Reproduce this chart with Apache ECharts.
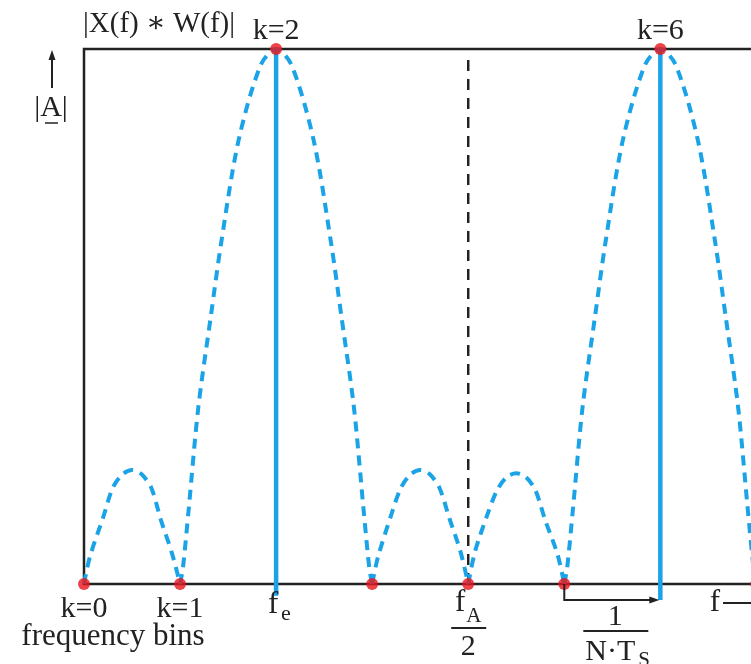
<!DOCTYPE html>
<html>
<head>
<meta charset="utf-8">
<script src="https://cdn.jsdelivr.net/npm/echarts@6/dist/echarts.min.js"></script>
<style>
  html, body { margin: 0; padding: 0; background: #fff; }
  #container { width: 751px; height: 664px; }
</style>
</head>
<body>
<div id="container"></div>
<script>
"use strict";

// 频率格点 k = 0..7
const bins = [0, 1, 2, 3, 4, 5, 6, 7];
const binValues = [0, 0, 1, 0, 0, 0, 1, 0];
const binLabels = ["k=0", "k=1", "", "", "", "", "", ""];
const topLabels = { 2: "k=2", 6: "k=6" };
const signalBins = [2, 6]; // f_e 和镜像
const signalBottom = [-0.022, -0.03];
const halfSampleBin = 4; // fA/2

// 窗函数谱的各个瓣 [bin, |A|]
const lobe0 = [[0, 0], [0.06, 0.05], [0.2, 0.125], [0.3, 0.18], [0.4, 0.205], [0.5, 0.213], [0.6, 0.205], [0.7, 0.18], [0.8, 0.12], [0.92, 0.055], [1, 0]];
const lobe1 = [[1, 0], [1.03, 0.03], [1.09, 0.14], [1.19, 0.33], [1.32, 0.5], [1.43, 0.64], [1.61, 0.83], [1.84, 0.97], [2, 1],
               [2.16, 0.97], [2.39, 0.83], [2.57, 0.64], [2.68, 0.5], [2.81, 0.33], [2.91, 0.14], [2.97, 0.03], [3, 0]];
const lobe2 = [[3, 0], [3.06, 0.05], [3.2, 0.13], [3.3, 0.18], [3.4, 0.205], [3.5, 0.213], [3.6, 0.205], [3.7, 0.18], [3.8, 0.125], [3.92, 0.06], [4, 0]];
const lobe3 = [[4, 0], [4.07, 0.06], [4.2, 0.13], [4.3, 0.175], [4.4, 0.2], [4.5, 0.207], [4.6, 0.2], [4.7, 0.175], [4.8, 0.12], [4.93, 0.055], [5, 0]];
const lobe4 = [[5, 0], [5.03, 0.03], [5.09, 0.14], [5.19, 0.33], [5.32, 0.5], [5.43, 0.64], [5.61, 0.83], [5.84, 0.97], [6, 1],
               [6.16, 0.97], [6.39, 0.83], [6.57, 0.64], [6.68, 0.5], [6.81, 0.33], [6.91, 0.14], [6.97, 0.03], [7, 0]];
const lobes = [lobe0, lobe1, lobe2, lobe3, lobe4];

const BLUE = "#1aa3e6";
const RED = "#e8141c";
const INK = "#222";
const SERIF = "'Liberation Serif', 'DejaVu Serif', serif";

let myChart = echarts.init(document.getElementById("container"));

let series = lobes.map(function (lobe) {
  return {
    type: "line",
    data: lobe,
    smooth: 0.3,
    showSymbol: false,
    silent: true,
    lineStyle: { color: BLUE, width: 4, type: [10, 7] },
    z: 3,
  };
});

signalBins.forEach(function (b, i) { // 实线谱线
  series.push({
    type: "line",
    data: [[b, 1], [b, signalBottom[i]]],
    showSymbol: false,
    clip: false,
    silent: true,
    lineStyle: { color: BLUE, width: 4.5 },
    z: 4,
  });
});

series.push({ // fA/2 虚线
  type: "line",
  data: [[halfSampleBin, 0], [halfSampleBin, 0.99]],
  showSymbol: false,
  silent: true,
  lineStyle: { color: INK, width: 2.5, type: [11, 8] },
  z: 2,
});

series.push({ // 红点
  type: "scatter",
  data: bins.map(function (b, i) { return [b, binValues[i]]; }),
  symbolSize: 12,
  clip: false,
  silent: true,
  itemStyle: { color: RED },
  z: 10,
});

let option = {
  animation: false,
  grid: {
    left: 84, top: 49, width: 682, height: 535,
    containLabel: false, outerBoundsMode: "none",
    show: true, borderColor: INK, borderWidth: 2.5, backgroundColor: "transparent",
  },
  xAxis: {
    type: "value", min: 0, max: 7.1, interval: 1,
    axisLine: { show: false }, axisTick: { show: false },
    splitLine: { show: false },
    axisLabel: {
      margin: 10,
      fontFamily: SERIF, fontSize: 30, color: INK,
      formatter: function (v) { return binLabels[v] || ""; },
    },
  },
  yAxis: {
    type: "value", min: 0, max: 1,
    axisLine: { show: false }, axisTick: { show: false },
    splitLine: { show: false }, axisLabel: { show: false },
  },
  series: series,
};

myChart.setOption(option);

// 注释文字与箭头
function px(x, y) { return myChart.convertToPixel({ gridIndex: 0 }, [x, y]); }
function txt(s, x, y, size, align, valign) {
  return {
    type: "text", silent: true, z: 20,
    style: {
      text: s, x: x, y: y, fill: INK,
      fontFamily: SERIF, fontSize: size,
      align: align || "center", verticalAlign: valign || "middle",
    },
  };
}
function seg(x1, y1, x2, y2, w) {
  return {
    type: "line", silent: true, z: 20,
    shape: { x1: x1, y1: y1, x2: x2, y2: y2 },
    style: { stroke: INK, lineWidth: w || 2 },
  };
}
function head(x, y, dir) { // 小箭头
  let pts = dir === "up"
    ? [[x, y], [x - 3.5, y + 10], [x + 3.5, y + 10]]
    : [[x, y], [x - 10, y - 3.5], [x - 10, y + 3.5]];
  return { type: "polygon", silent: true, z: 20, shape: { points: pts }, style: { fill: INK } };
}

let p0 = px(0, 0);
let g = [];

g.push(txt("|X(f) \u2217 W(f)|", p0[0] - 1, 24, 29, "left"));
Object.keys(topLabels).forEach(function (k) {
  let p = px(+k, 1);
  g.push(txt(topLabels[k], p[0], p[1] - 18, 30));
});

// |A| 与上箭头
g.push(txt("|A|", 51, 108, 30));
g.push(seg(45, 123, 58, 123, 1.5));
g.push(seg(52, 88, 52, 58, 2));
g.push(head(52, 50, "up"));

g.push(txt("frequency bins", 113, 637, 31));

// f_e
let pe = px(signalBins[0], 0);
g.push(txt("f", pe[0] - 3, 605, 31));
g.push(txt("e", pe[0] + 5, 614, 22, "left"));

// fA / 2
let ph = px(halfSampleBin, 0);
g.push(txt("f", ph[0] - 8, 603, 31));
g.push(txt("A", ph[0] - 2, 616, 21, "left"));
g.push(seg(ph[0] - 17, 628, ph[0] + 18, 628, 2));
g.push(txt("2", ph[0], 647, 30));

// 1 / (N·T_S) 与标尺
let p5 = px(5, 0), p6 = px(6, 0);
g.push({
  type: "polyline", silent: true, z: 20,
  shape: { points: [[p5[0], p5[1]], [p5[0], 600], [p6[0] - 6, 600]] },
  style: { stroke: INK, lineWidth: 2, fill: null },
});
g.push(head(p6[0] - 1, 600, "right"));
let mid = (p5[0] + p6[0]) / 2 + 3;
g.push(txt("1", mid, 617, 30));
g.push(seg(mid - 32, 631, mid + 33, 631, 2));
g.push(txt("N\u00B7T", mid - 5, 652, 30));
g.push(txt("S", mid + 23, 660, 21, "left"));

// f 轴箭头
g.push(txt("f", 715, 603, 31));
g.push(seg(723, 603, 752, 603, 2));

myChart.setOption({ graphic: g });
</script>
</body>
</html>
